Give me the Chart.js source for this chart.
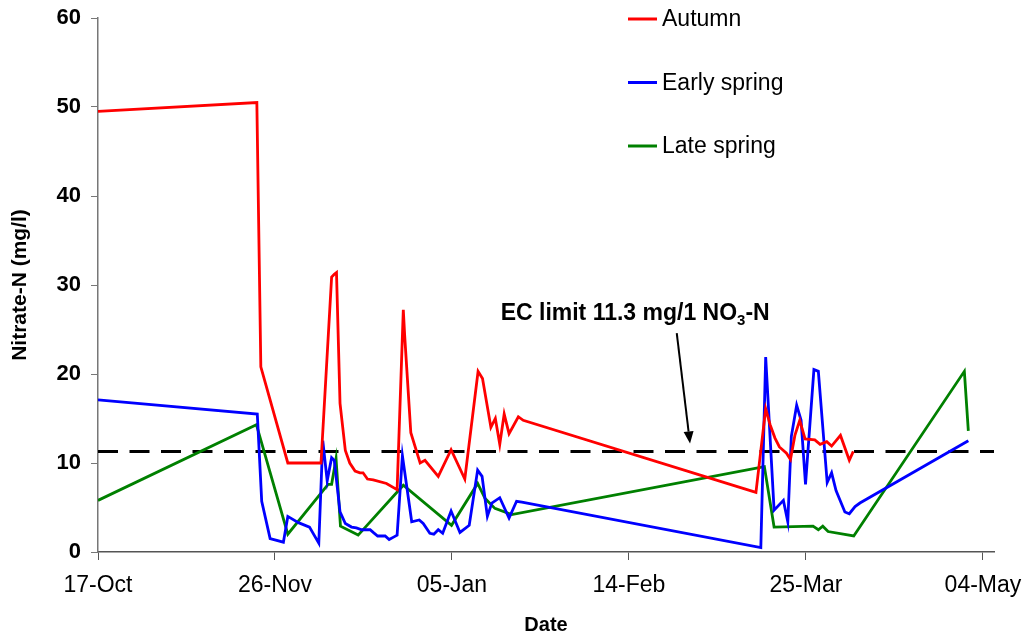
<!DOCTYPE html>
<html>
<head>
<meta charset="utf-8">
<title>Nitrate-N</title>
<script src="https://cdn.jsdelivr.net/npm/chart.js@4.4.1/dist/chart.umd.min.js"></script>
<style>
  html, body { margin: 0; padding: 0; background: #fff; }
  #wrap { width: 1024px; height: 637px; position: relative; }
</style>
</head>
<body>
<div id="wrap"><canvas id="nitrateChart"></canvas></div>
<script>
// Days after 17-Oct
const autumnDay = [0, 35.9, 36.8, 42.9, 50.4, 52.8, 53.4, 53.9, 54.7, 55.9, 56.9, 58.1, 59.2, 59.9, 60.9, 62.2, 65.2, 67.6, 69.0, 69.3, 70.7, 72.8, 73.9, 76.9, 79.8, 82.9, 85.9, 86.9, 88.8, 89.8, 90.8, 91.8, 92.9, 95.0, 96.1, 148.7, 150.9, 151.9, 153.0, 154.0, 155.6, 156.5, 157.5, 158.6, 159.8, 162.0, 163.2, 164.7, 165.8, 167.8, 169.8, 170.7];
const autumnNitrate = [49.5, 50.5, 20.8, 10.0, 10.0, 30.9, 31.2, 31.4, 16.7, 11.4, 10.0, 9.1, 8.9, 8.9, 8.2, 8.1, 7.7, 7.0, 27.2, 24.4, 13.4, 10.0, 10.3, 8.5, 11.5, 8.2, 20.3, 19.5, 14.0, 15.0, 12.1, 15.5, 13.3, 15.2, 14.8, 6.7, 16.1, 14.3, 12.8, 11.8, 11.1, 10.4, 13.1, 14.8, 12.7, 12.6, 12.1, 12.4, 11.9, 13.1, 10.3, 11.3];

const earlyDay = [0, 36.0, 37.0, 38.9, 41.9, 42.9, 45.3, 47.8, 49.9, 50.8, 51.8, 52.8, 53.4, 54.7, 55.9, 57.3, 58.4, 59.6, 61.5, 62.2, 63.2, 64.9, 65.8, 66.9, 67.6, 68.8, 70.9, 72.6, 73.5, 75.0, 75.9, 76.9, 77.9, 79.8, 81.8, 83.9, 85.8, 86.8, 88.0, 89.0, 90.8, 92.9, 94.6, 95.8, 149.8, 150.9, 152.8, 154.9, 155.9, 156.7, 157.9, 158.9, 159.9, 161.8, 162.8, 164.8, 165.8, 166.8, 168.8, 169.8, 171.1, 172.2, 196.7];
const earlyNitrate = [17.1, 15.5, 5.7, 1.5, 1.1, 4.0, 3.3, 2.8, 1.0, 12.5, 8.0, 10.6, 10.3, 4.5, 3.2, 2.8, 2.7, 2.5, 2.5, 2.2, 1.8, 1.8, 1.4, 1.7, 1.9, 10.8, 3.4, 3.6, 3.2, 2.1, 2.0, 2.5, 2.1, 4.6, 2.2, 3.0, 9.2, 8.5, 4.0, 5.5, 6.1, 3.8, 5.7, 5.6, 0.5, 21.9, 4.7, 5.8, 3.4, 13.0, 16.5, 14.8, 7.6, 20.5, 20.3, 7.8, 8.9, 6.9, 4.5, 4.3, 5.1, 5.5, 12.5];

const lateDay = [0, 35.8, 42.9, 52.0, 52.8, 53.8, 54.8, 58.8, 69.0, 79.9, 85.8, 87.5, 89.7, 93.5, 150.6, 152.8, 161.6, 162.8, 163.8, 165.0, 170.8, 195.8, 196.7];
const lateNitrate = [5.8, 14.3, 2.0, 7.6, 7.6, 10.5, 2.9, 1.9, 7.5, 3.0, 7.7, 6.0, 4.9, 4.2, 9.6, 2.8, 2.9, 2.5, 2.9, 2.3, 1.8, 20.3, 13.6];

const ecLimit = 11.3;
const dayRange = [0, 202.5];
const xTickLabels = ['17-Oct', '26-Nov', '05-Jan', '14-Feb', '25-Mar', '04-May'];
const yTicks = [0, 10, 20, 30, 40, 50, 60];

const FONT = '"Liberation Sans", Arial, sans-serif';

function toPoints(days, values) {
  return days.map((d, i) => ({ x: d, y: values[i] }));
}

function seriesStyle(label, color, days, values) {
  return {
    label: label,
    data: toPoints(days, values),
    borderColor: color,
    backgroundColor: color,
    borderWidth: 2.8,
    pointRadius: 0,
    tension: 0,
    fill: false
  };
}

// Legend drawn inside the plot area, top right
const legendPlugin = {
  id: 'sideLegend',
  afterDraw(chart) {
    const ctx = chart.ctx;
    const area = chart.chartArea;
    const x0 = area.left + 530;
    ctx.save();
    ctx.font = '23px ' + FONT;
    ctx.textBaseline = 'middle';
    chart.data.datasets.forEach((ds, i) => {
      if (!ds.inLegend) return;
      const y = area.top + 1 + i * 63.5;
      ctx.strokeStyle = ds.borderColor;
      ctx.lineWidth = 3;
      ctx.beginPath();
      ctx.moveTo(x0, y);
      ctx.lineTo(x0 + 29, y);
      ctx.stroke();
      ctx.fillStyle = '#000';
      ctx.fillText(ds.label, x0 + 34, y + 1);
    });
    ctx.restore();
  }
};

// EC limit label with arrow
const ecLabelPlugin = {
  id: 'ecLabel',
  afterDraw(chart) {
    const ctx = chart.ctx;
    const xs = chart.scales.x;
    const ys = chart.scales.y;
    ctx.save();
    ctx.fillStyle = '#000';
    ctx.textBaseline = 'alphabetic';
    let tx = xs.getPixelForValue(91.0);
    const ty = ys.getPixelForValue(26.1);
    ctx.font = 'bold 23px ' + FONT;
    const main = 'EC limit 11.3 mg/1 NO';
    ctx.fillText(main, tx, ty);
    tx += ctx.measureText(main).width;
    ctx.font = 'bold 15px ' + FONT;
    ctx.fillText('3', tx, ty + 5);
    tx += ctx.measureText('3').width;
    ctx.font = 'bold 23px ' + FONT;
    ctx.fillText('-N', tx, ty);

    // arrow
    const x1 = xs.getPixelForValue(130.8), y1 = ys.getPixelForValue(24.6);
    const x2 = xs.getPixelForValue(133.8), y2 = ys.getPixelForValue(12.2);
    const ang = Math.atan2(y2 - y1, x2 - x1);
    const head = 12;
    ctx.strokeStyle = '#000';
    ctx.lineWidth = 2;
    ctx.beginPath();
    ctx.moveTo(x1, y1);
    ctx.lineTo(x2 - head * Math.cos(ang), y2 - head * Math.sin(ang));
    ctx.stroke();
    ctx.beginPath();
    ctx.moveTo(x2, y2);
    ctx.lineTo(x2 - head * Math.cos(ang) + 5 * Math.sin(ang), y2 - head * Math.sin(ang) - 5 * Math.cos(ang));
    ctx.lineTo(x2 - head * Math.cos(ang) - 5 * Math.sin(ang), y2 - head * Math.sin(ang) + 5 * Math.cos(ang));
    ctx.closePath();
    ctx.fill();
    ctx.restore();
  }
};

const ctx = document.getElementById('nitrateChart').getContext('2d');

const autumn = seriesStyle('Autumn', '#FF0000', autumnDay, autumnNitrate);
const early = seriesStyle('Early spring', '#0000FF', earlyDay, earlyNitrate);
const late = seriesStyle('Late spring', '#008000', lateDay, lateNitrate);
autumn.inLegend = early.inLegend = late.inLegend = true;

const limitLine = {
  label: 'EC limit',
  data: dayRange.map(d => ({ x: d, y: ecLimit })),
  borderColor: '#000',
  borderWidth: 3,
  borderDash: [20, 11.5],
  pointRadius: 0,
  fill: false
};

const chart = new Chart(ctx, {
  type: 'line',
  data: { datasets: [autumn, early, late, limitLine] },
  options: {
    responsive: true,
    maintainAspectRatio: false,
    animation: false,
    layout: { padding: { top: 18, right: 30, left: 0, bottom: 0 } },
    plugins: {
      legend: { display: false },
      tooltip: { enabled: false }
    },
    scales: {
      x: {
        type: 'linear',
        min: dayRange[0],
        max: dayRange[1],
        afterFit(scale) {
          scale.height = 85;
          scale.paddingLeft = 0;
          scale.paddingRight = 0;
        },
        grid: {
          drawOnChartArea: false,
          tickLength: 8,
          color: '#555',
          tickColor: '#555'
        },
        border: { color: '#555', width: 1.5 },
        ticks: {
          stepSize: 40,
          includeBounds: false,
          autoSkip: false,
          maxRotation: 0,
          padding: 12,
          color: '#000',
          font: { family: FONT, size: 23 },
          callback: v => xTickLabels[Math.round(v / 40)]
        },
        title: {
          display: true,
          text: 'Date',
          color: '#000',
          padding: { top: 0, bottom: 0 },
          font: { family: FONT, size: 20, weight: 'bold' }
        }
      },
      y: {
        min: yTicks[0],
        max: yTicks[yTicks.length - 1],
        afterFit(scale) {
          scale.width = 98;
          scale.paddingTop = 0;
          scale.paddingBottom = 0;
        },
        grid: {
          drawOnChartArea: false,
          tickLength: 7,
          color: '#777',
          tickColor: '#777'
        },
        border: { color: '#777', width: 1.5 },
        ticks: {
          stepSize: 10,
          padding: 10,
          color: '#000',
          font: { family: FONT, size: 22, weight: 'bold' }
        },
        title: {
          display: true,
          text: 'Nitrate-N (mg/l)',
          color: '#000',
          padding: { top: 8, bottom: 0 },
          font: { family: FONT, size: 21, weight: 'bold' }
        }
      }
    }
  },
  plugins: [legendPlugin, ecLabelPlugin]
});
</script>
</body>
</html>
